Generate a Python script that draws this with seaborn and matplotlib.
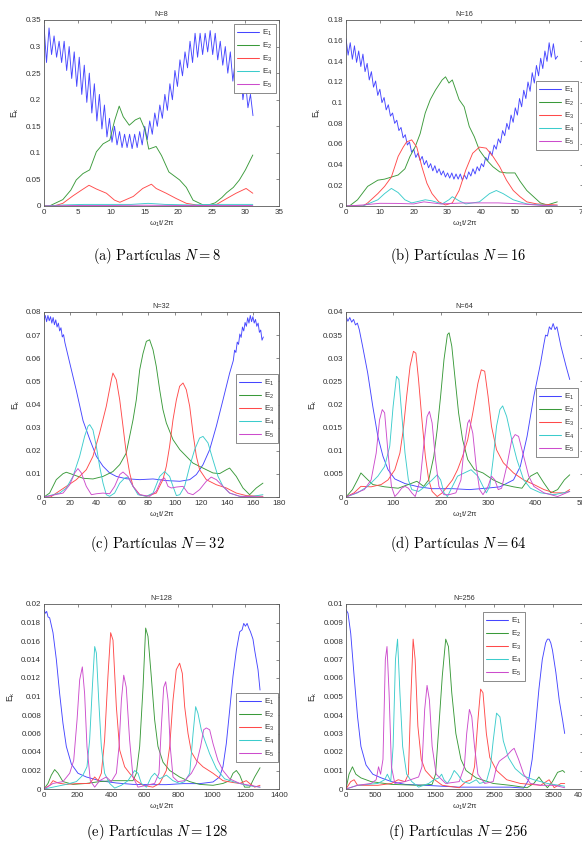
import numpy as np
import matplotlib
matplotlib.use("Agg")
import matplotlib.pyplot as plt
from matplotlib.lines import Line2D
from matplotlib.ticker import MultipleLocator, FuncFormatter
import seaborn as sns

# ---------------- data ----------------
# N = 8
N8_E1_step = 0.375
N8_E1_peaks = [0.34, 0.335, 0.32, 0.31, 0.31, 0.30, 0.29, 0.28, 0.265, 0.25, 0.23, 0.21, 0.19, 0.165,
               0.15, 0.14, 0.135, 0.135, 0.135, 0.14, 0.15, 0.16, 0.175, 0.19, 0.21, 0.23, 0.255, 0.275,
               0.29, 0.31, 0.325, 0.325, 0.325, 0.33, 0.325, 0.31, 0.30, 0.29, 0.275, 0.26, 0.235, 0.21]
N8_E1_troughs = [0.27, 0.285, 0.28, 0.27, 0.255, 0.24, 0.225, 0.21, 0.195, 0.175, 0.16, 0.145, 0.13, 0.12,
                 0.115, 0.11, 0.11, 0.108, 0.11, 0.115, 0.125, 0.135, 0.15, 0.165, 0.18, 0.2, 0.225, 0.245,
                 0.26, 0.27, 0.28, 0.285, 0.29, 0.285, 0.275, 0.265, 0.25, 0.235, 0.22, 0.2, 0.185, 0.17]
N8_E2_t = [0, 0.8, 2.8, 4.0, 4.8, 5.8, 6.8, 7.8, 8.8, 9.8, 10.5, 11.2, 11.8, 12.7, 13.6, 14.3, 15.0, 15.6,
           16.7, 17.5, 18.6, 20.2, 21.2, 22.2, 23.7, 24.5, 25.5, 26.5, 27.2, 28.2, 29.1, 30.0, 31.1]
N8_E2 = [0, 0.0, 0.012, 0.03, 0.049, 0.061, 0.068, 0.102, 0.117, 0.124, 0.16, 0.188, 0.168, 0.152, 0.162,
         0.166, 0.145, 0.107, 0.112, 0.095, 0.064, 0.049, 0.035, 0.011, 0.002, 0.002, 0.006, 0.016, 0.025,
         0.035, 0.049, 0.068, 0.096]
N8_E3_t = [0, 1.5, 2.8, 4.3, 5.6, 6.7, 7.8, 9.3, 10.5, 11.3, 13.3, 14.7, 16.0, 16.7, 18.2, 19.7, 21.2,
           23.2, 25.7, 27.2, 28.6, 30.1, 31.1]
N8_E3 = [0, 0.0, 0.005, 0.019, 0.030, 0.039, 0.032, 0.024, 0.011, 0.007, 0.018, 0.033, 0.041, 0.033, 0.024,
         0.014, 0.005, 0.001, 0.003, 0.014, 0.024, 0.033, 0.024]
N8_E4_t = [0, 3, 6, 10, 13, 15.5, 18, 22, 25, 28, 31.1]
N8_E4 = [0, 0.002, 0.003, 0.003, 0.003, 0.005, 0.003, 0.002, 0.003, 0.003, 0.003]
N8_E5_t = [0, 5, 10, 15, 20, 25, 31.1]
N8_E5 = [0, 0.001, 0.001, 0.0015, 0.001, 0.001, 0.001]

# N = 16
N16_E1_step = 0.625
N16_E1_peaks = [0.162, 0.158, 0.155, 0.150, 0.147, 0.138, 0.130, 0.121, 0.113, 0.105, 0.098, 0.090, 0.083,
                0.076, 0.069, 0.062, 0.055, 0.051, 0.048, 0.044, 0.041, 0.039, 0.036, 0.034, 0.032, 0.032,
                0.031, 0.031, 0.030, 0.033, 0.036, 0.038, 0.041, 0.047, 0.053, 0.059, 0.065, 0.073, 0.080,
                0.088, 0.095, 0.104, 0.112, 0.120, 0.129, 0.136, 0.143, 0.150, 0.158, 0.157, 0.145]
N16_E1_troughs = [0.146, 0.142, 0.139, 0.135, 0.130, 0.122, 0.115, 0.107, 0.100, 0.093, 0.087, 0.080, 0.073,
                  0.066, 0.059, 0.052, 0.047, 0.044, 0.040, 0.037, 0.034, 0.032, 0.030, 0.028, 0.027, 0.026,
                  0.026, 0.025, 0.026, 0.029, 0.031, 0.034, 0.038, 0.044, 0.049, 0.055, 0.061, 0.068, 0.074,
                  0.081, 0.088, 0.096, 0.104, 0.111, 0.119, 0.126, 0.133, 0.140, 0.144, 0.142]
N16_E2_t = [0, 1, 3.4, 6.4, 9.4, 11.4, 13.4, 15.4, 17.4, 18.9, 20.4, 21.9, 23.4, 24.9, 26.4, 28.4, 29.4, 30.4,
            31.4, 33.4, 34.9, 36.4, 37.9, 39.4, 41.4, 43.4, 45.4, 47.4, 49.9, 51.4, 53.4, 55.4, 57.4, 59.4, 62.4]
N16_E2 = [0, 0, 0.006, 0.019, 0.025, 0.026, 0.028, 0.030, 0.036, 0.048, 0.057, 0.070, 0.090, 0.103, 0.112,
          0.122, 0.125, 0.119, 0.122, 0.103, 0.096, 0.077, 0.067, 0.054, 0.045, 0.038, 0.033, 0.032, 0.032,
          0.024, 0.015, 0.009, 0.003, 0.001, 0.004]
N16_E3_t = [0, 5, 6.4, 9.4, 11.4, 13.4, 15.4, 16.9, 17.9, 19.4, 20.9, 22.4, 23.9, 25.4, 27.4, 29.4, 31.4, 33.4,
            35.4, 37.4, 39.4, 41.4, 43.4, 45.4, 47.4, 49.4, 51.4, 53.4, 56.4, 62.4]
N16_E3 = [0, 0, 0.003, 0.012, 0.019, 0.028, 0.048, 0.057, 0.062, 0.064, 0.057, 0.038, 0.022, 0.012, 0.004,
          0.001, 0.003, 0.015, 0.035, 0.051, 0.057, 0.056, 0.048, 0.038, 0.025, 0.015, 0.009, 0.004, 0.002, 0.001]
N16_E4_t = [0, 5, 9.4, 11.4, 13.4, 15.4, 17.4, 19.4, 23.4, 25.4, 28.4, 30.4, 31.4, 33.4, 35.4, 39.4, 42.4,
            44.4, 46.4, 49.4, 53.4, 62.4]
N16_E4 = [0, 0, 0.006, 0.012, 0.017, 0.013, 0.006, 0.003, 0.006, 0.005, 0.002, 0.006, 0.009, 0.005, 0.002,
          0.004, 0.012, 0.015, 0.012, 0.006, 0.002, 0.0]
N16_E5_t = [0, 5, 10, 15, 20, 23, 28, 35, 45, 52, 58, 62.4]
N16_E5 = [0, 0.001, 0.0026, 0.0025, 0.002, 0.004, 0.002, 0.003, 0.003, 0.002, 0.0005, 0.0]

# N = 32
N32_E1_t = [0, 1, 2, 3, 4, 5, 6, 7, 8, 9, 10, 11, 12, 13, 14, 15, 16, 19.7, 24.8, 29.9, 35, 40.1, 45.2, 50.3,
            55.4, 63, 73.3, 83.5, 93.7, 104, 111.6, 116.7, 121.8, 126.9, 132, 137.1, 142.2, 145, 146, 147,
            148, 149, 150, 151, 152, 153, 154, 155, 156, 157, 158, 159, 160, 161, 162, 163, 164, 165, 166,
            167, 168]
N32_E1 = [0.0765, 0.0785, 0.0758, 0.0785, 0.0762, 0.0780, 0.0752, 0.0776, 0.0745, 0.0766, 0.0735, 0.0752,
          0.0718, 0.0732, 0.0692, 0.0702, 0.0668, 0.058, 0.046, 0.033, 0.025, 0.0176, 0.0133, 0.0104, 0.0089,
          0.0079, 0.0075, 0.0078, 0.0071, 0.0068, 0.0075, 0.0097, 0.014, 0.0205, 0.0306, 0.042, 0.0536,
          0.059, 0.0635, 0.0625, 0.0670, 0.0660, 0.0705, 0.0690, 0.0735, 0.0718, 0.0755, 0.0738, 0.0775,
          0.0752, 0.0785, 0.0758, 0.0780, 0.0752, 0.0768, 0.0738, 0.0752, 0.0712, 0.0722, 0.0678, 0.0692]
N32_E2_t = [0, 4.3, 9.4, 14.6, 17.1, 22.2, 29.9, 37.5, 45.2, 52.8, 58, 63, 68.2, 70.7, 73.3, 75.8, 78.4,
            80.9, 83.5, 86, 88.6, 91.1, 93.7, 98.8, 104, 109, 114, 121.8, 129.4, 134.5, 139.7, 142.2, 147.3,
            152.4, 157.5, 162.6, 167.7]
N32_E2 = [0, 0.0017, 0.0075, 0.0101, 0.0107, 0.0097, 0.0081, 0.0078, 0.0089, 0.011, 0.014, 0.019, 0.0334,
          0.042, 0.055, 0.062, 0.0673, 0.068, 0.0637, 0.0565, 0.0464, 0.0378, 0.032, 0.0248, 0.0205, 0.0176,
          0.0147, 0.0125, 0.0104, 0.0101, 0.0118, 0.0125, 0.0089, 0.0039, 0.001, 0.0039, 0.006]
N32_E3_t = [0, 5, 9.4, 17.1, 24.8, 32.4, 37.5, 42.6, 47.7, 51.6, 52.8, 55.4, 58, 60.5, 63, 65.6, 68.2, 73.3,
            78.4, 86, 91.1, 93.7, 96.2, 98.8, 101.4, 103.9, 106.5, 109, 111.6, 114.1, 116.7, 119.2, 124.3,
            132, 139.7, 147.3, 155, 167.7]
N32_E3 = [0, 0, 0.0017, 0.0046, 0.0075, 0.0118, 0.0176, 0.0277, 0.0392, 0.0507, 0.0536, 0.0507, 0.042,
          0.0306, 0.019, 0.0104, 0.0046, 0.001, 0.0003, 0.0017, 0.0075, 0.0133, 0.0219, 0.0334, 0.042, 0.0479,
          0.0493, 0.0464, 0.0392, 0.0277, 0.0176, 0.0118, 0.0075, 0.0053, 0.0039, 0.0017, 0.0006, 0.0003]
N32_E4_t = [0, 12, 17.1, 22.2, 27.3, 31.1, 33.7, 35, 37.5, 40.1, 42.6, 45.2, 47.7, 50.3, 54.1, 58, 61.8, 64.3,
            68.2, 72, 78.4, 83.5, 88.6, 92.4, 96.2, 98.8, 101.4, 104, 107.7, 111.6, 115.4, 119.2, 121.8,
            125.6, 129.4, 133.3, 137.1, 142.2, 149.9, 160, 167.7]
N32_E4 = [0, 0.0017, 0.0039, 0.0089, 0.0176, 0.0262, 0.0306, 0.0313, 0.029, 0.0219, 0.0133, 0.006, 0.001,
          0.0003, 0.0017, 0.006, 0.0082, 0.0086, 0.0046, 0.001, 0.0003, 0.0017, 0.0089, 0.011, 0.0089, 0.0046,
          0.0006, 0.001, 0.0046, 0.0133, 0.0205, 0.0255, 0.0262, 0.0234, 0.0161, 0.0089, 0.0046, 0.0017,
          0.0003, 0.0003, 0.001]
N32_E5_t = [0, 14.6, 19.7, 23.5, 26, 28.6, 32.4, 36.3, 40.1, 45.2, 50.3, 54.1, 58, 60.5, 64.3, 68.2, 73.3,
            81, 86, 89.9, 92.4, 95, 97.5, 101.4, 106.5, 110.3, 114.1, 119.2, 124.3, 128.1, 132, 137.1, 142.2,
            149.9, 167.7]
N32_E5 = [0, 0.0017, 0.0053, 0.0104, 0.0123, 0.0104, 0.0046, 0.001, 0.0014, 0.0017, 0.0014, 0.0046, 0.0097,
          0.0108, 0.0089, 0.0046, 0.001, 0.0003, 0.0025, 0.0075, 0.0082, 0.0046, 0.0039, 0.0043, 0.0046,
          0.0017, 0.001, 0.0032, 0.0068, 0.0086, 0.0075, 0.0046, 0.0017, 0.0003, 0]

# N = 64
N64_E1_t = [0, 4, 8, 12, 16, 20, 24, 28, 35, 45.8, 56.5, 67.2, 78, 88.7, 103, 124.5, 153, 181.7, 224.6,
            260.4, 296, 324.7, 353.4, 367.7, 382, 396.3, 410.6, 417, 421, 425, 429, 433, 437, 441, 445, 449,
            453.5, 464.2, 472]
N64_E1 = [0.0390, 0.0380, 0.0388, 0.0378, 0.0384, 0.0372, 0.0376, 0.0362, 0.0326, 0.0268, 0.0196, 0.0131,
          0.0088, 0.0059, 0.0039, 0.0029, 0.0022, 0.0018, 0.0018, 0.0016, 0.0019, 0.0022, 0.0037, 0.0066,
          0.0131, 0.0218, 0.029, 0.0328, 0.0350, 0.0348, 0.0368, 0.0362, 0.0375, 0.0362, 0.0368, 0.0348,
          0.0326, 0.0283, 0.0254]
N64_E2_t = [0, 13.6, 24.3, 31.5, 42.2, 56.5, 81.5, 110, 131.6, 149.5, 163.8, 174.5, 185.3, 192.4, 199.6,
            206.7, 213.9, 217.5, 223.2, 230.3, 237.5, 246, 256.8, 271, 289, 310.4, 331.9, 353.4, 371.2, 389.1,
            403.4, 417.7, 432, 446.4, 460.7, 472]
N64_E2 = [0, 0.0016, 0.0037, 0.0052, 0.0041, 0.0027, 0.0022, 0.0019, 0.0027, 0.0034, 0.0023, 0.0037, 0.0088,
          0.0146, 0.0218, 0.0297, 0.0351, 0.0355, 0.0326, 0.0254, 0.0182, 0.0124, 0.0081, 0.0059, 0.0052,
          0.0037, 0.0027, 0.0022, 0.0019, 0.0045, 0.0053, 0.003, 0.0009, 0.0016, 0.0037, 0.0048]
N64_E3_t = [0, 17, 31.5, 53, 74.4, 88.7, 103, 113.7, 120.9, 128, 135.2, 142.3, 147.4, 153, 160.2, 167.4,
            174.5, 181.7, 192.4, 203.1, 213.9, 224.6, 235.3, 246, 256.8, 267.5, 278.3, 285.4, 292.6, 299.7,
            306.9, 317.6, 331.9, 353.4, 374.8, 396.3, 417.7, 439.2, 460.7, 472]
N64_E3 = [0, 0.0009, 0.0023, 0.0022, 0.0027, 0.0037, 0.0059, 0.0095, 0.0146, 0.0218, 0.0283, 0.0315, 0.0311,
          0.0254, 0.0167, 0.0088, 0.0037, 0.0012, 0.0001, 0.0009, 0.0023, 0.0037, 0.0059, 0.0088, 0.0124,
          0.0182, 0.0246, 0.0275, 0.0272, 0.0218, 0.0153, 0.0102, 0.0074, 0.0052, 0.0037, 0.0027, 0.0016,
          0.0009, 0.0009, 0.0016]
N64_E4_t = [0, 24.3, 45.8, 67.2, 81.5, 92.3, 99.4, 106.6, 111.6, 117.3, 124.5, 131.6, 138.8, 153, 167.4,
            181.7, 192.4, 199.6, 206.7, 213.9, 224.6, 235.3, 249.6, 263.9, 278.3, 289, 296.1, 303.3, 310.4,
            317.6, 324.7, 330.5, 339, 349.8, 360.5, 374.8, 389.1, 410.6, 439.2, 472]
N64_E4 = [0, 0.0009, 0.0023, 0.0045, 0.0066, 0.011, 0.0196, 0.0261, 0.0254, 0.0182, 0.0095, 0.0037, 0.0016,
          0.0012, 0.0023, 0.0037, 0.0048, 0.0037, 0.0009, 0.0001, 0.0023, 0.0045, 0.0052, 0.0059, 0.0045,
          0.0023, 0.0009, 0.0023, 0.0081, 0.0153, 0.0189, 0.0197, 0.0174, 0.0124, 0.0081, 0.0037, 0.0019,
          0.0009, 0.0005, 0.0012]
N64_E5_t = [0, 38.6, 53, 63.7, 70.8, 76.5, 81.5, 88.7, 95.9, 103, 110.2, 117.3, 124.5, 131.6, 138.8, 146,
            156.7, 163.8, 171, 176, 181.7, 188.8, 196, 206.7, 217.5, 231.8, 242.5, 249.6, 256.8, 260.4, 267.5,
            274.7, 281.8, 289, 299.7, 306.9, 314, 321.2, 328.3, 339, 349.8, 356.9, 364.1, 374.8, 385.5, 396.3,
            417.7, 446.4, 472]
N64_E5 = [0, 0.0016, 0.0037, 0.0095, 0.0167, 0.0189, 0.0182, 0.0095, 0.0023, 0.0001, 0.0009, 0.0019, 0.0023,
          0.0019, 0.0009, 0.0001, 0.0037, 0.011, 0.0174, 0.0185, 0.016, 0.0081, 0.0023, 0.0005, 0.0005, 0.0009,
          0.0037, 0.011, 0.016, 0.0167, 0.0138, 0.0066, 0.0016, 0.0005, 0.0023, 0.0045, 0.0037, 0.0016,
          0.0019, 0.0066, 0.0124, 0.0135, 0.0131, 0.0088, 0.0045, 0.0023, 0.0009, 0.0001, 0.0012]

# N = 128
N128_E1_t = [0, 8, 16, 24, 33.8, 53.6, 73.5, 93.3, 113, 133, 163, 202.5, 252, 331.6, 431, 530, 629.5, 729,
             828, 927, 1007, 1046, 1066, 1086, 1106, 1126, 1146, 1166, 1180, 1190, 1200, 1210, 1220, 1230,
             1245, 1255, 1275, 1287]
N128_E1 = [0.0194, 0.0190, 0.0192, 0.0186, 0.0185, 0.0169, 0.014, 0.0103, 0.0071, 0.0046, 0.0027, 0.0017,
           0.0013, 0.0009, 0.00065, 0.0005, 0.00047, 0.00047, 0.00058, 0.00058, 0.00076, 0.0013, 0.0024,
           0.0049, 0.0085, 0.0122, 0.015, 0.017, 0.0172, 0.0179, 0.0176, 0.0179, 0.0174, 0.0170, 0.0162,
           0.015, 0.0129, 0.0107]
N128_E2_t = [0, 23.8, 43.7, 63.5, 83.4, 113, 172.8, 252, 331.6, 411, 490, 530, 550, 570, 590, 605.6, 619.5,
             639.4, 659, 679, 709, 749, 808, 868, 927, 1007, 1066, 1106, 1126, 1146, 1166, 1195, 1225, 1255,
             1287]
N128_E2 = [0, 0.0006, 0.0015, 0.0021, 0.0017, 0.0008, 0.0005, 0.0006, 0.0008, 0.0009, 0.0009, 0.0009, 0.0017,
           0.0046, 0.011, 0.0174, 0.0165, 0.0121, 0.0075, 0.0046, 0.0029, 0.002, 0.0013, 0.0008, 0.0005,
           0.0004, 0.0006, 0.0009, 0.0017, 0.002, 0.0015, 0.0002, 0.0002, 0.0013, 0.0023]
N128_E3_t = [0, 33.8, 53.6, 83.4, 133, 212, 272, 302, 322, 341.5, 361, 381, 397, 411, 431, 451, 480.5, 510,
             550, 590, 649, 689, 709, 729, 749, 768.5, 788, 808, 824, 838, 858, 878, 907.5, 947, 1007, 1066,
             1126, 1166, 1205, 1225, 1255, 1287]
N128_E3 = [0, 0.0004, 0.0009, 0.00065, 0.0005, 0.0006, 0.0006, 0.0013, 0.0009, 0.0017, 0.0053, 0.0122,
           0.0169, 0.0161, 0.0089, 0.0042, 0.0024, 0.0017, 0.0009, 0.0004, 0.0002, 0.0006, 0.0013, 0.002,
           0.0046, 0.0096, 0.0129, 0.0136, 0.0125, 0.0089, 0.006, 0.004, 0.0031, 0.0024, 0.0017, 0.0009,
           0.0007, 0.0006, 0.0009, 0.0006, 0.0002, 0.0004]
N128_E4_t = [0, 133, 193, 232, 256, 272, 288, 302, 312, 326, 341.5, 361, 391, 421, 461, 500.5, 540, 560, 580,
             610, 639, 659, 689, 729, 768.5, 808, 838, 868, 888, 903.5, 917, 937, 957, 987, 1027, 1076, 1126,
             1205, 1287]
N128_E4 = [0, 0.0005, 0.0008, 0.0015, 0.0024, 0.0053, 0.011, 0.0154, 0.0147, 0.0096, 0.0046, 0.0017, 0.0006,
           0.0001, 0.0004, 0.0009, 0.002, 0.0017, 0.0006, 0.0002, 0.0013, 0.0017, 0.0011, 0.0015, 0.0009,
           0.0006, 0.0008, 0.0017, 0.006, 0.0089, 0.0082, 0.0064, 0.0053, 0.0038, 0.0022, 0.0011, 0.0008,
           0.0004, 0.0002]
N128_E5_t = [0, 53.6, 113, 153, 177, 197, 212.5, 228.4, 242, 256, 276, 302, 331.6, 371, 401, 431, 447, 461,
             475, 490, 510, 530, 560, 610, 659, 685, 699, 713, 725, 739, 752, 768.5, 798, 838, 878, 907.5,
             933, 951, 967, 987, 1007, 1036, 1066, 1106, 1166, 1287]
N128_E5 = [0, 0.0006, 0.0008, 0.0017, 0.0031, 0.0075, 0.0118, 0.0132, 0.0103, 0.0046, 0.0009, 0.0002,
           0.0009, 0.0013, 0.0008, 0.0017, 0.0046, 0.0096, 0.0123, 0.011, 0.0053, 0.0013, 0.0002, 0.0004,
           0.0006, 0.0017, 0.0067, 0.011, 0.0116, 0.0096, 0.0046, 0.0013, 0.0008, 0.0009, 0.0017, 0.0027,
           0.0046, 0.0064, 0.0066, 0.0064, 0.0049, 0.0031, 0.002, 0.0011, 0.0006, 0.0002]

# N = 256
N256_E1_t = [0, 34, 80, 137, 195, 252, 338, 452, 595, 767, 996, 1339, 1911, 2484, 2770, 2999, 3084, 3142,
             3199, 3256, 3313, 3370, 3400, 3428, 3456, 3485, 3542, 3599, 3657, 3691]
N256_E1 = [0.0097, 0.0095, 0.0084, 0.0061, 0.0039, 0.0023, 0.0013, 0.0008, 0.0006, 0.0004, 0.00025, 0.0002,
           0.0001, 0.0001, 0.0001, 0.00005, 0.0005, 0.0016, 0.0034, 0.0054, 0.007, 0.0079, 0.0081, 0.0081,
           0.0079, 0.0075, 0.0063, 0.0048, 0.0037, 0.003]
N256_E2_t = [0, 51, 109, 166, 252, 423, 767, 1225, 1454, 1511, 1568, 1625, 1683, 1729, 1785, 1854, 1940,
             2026, 2198, 2484, 2770, 3056, 3170, 3256, 3313, 3399, 3485, 3571, 3657, 3691]
N256_E2 = [0, 0.0008, 0.0012, 0.0008, 0.0006, 0.0004, 0.00025, 0.0002, 0.00025, 0.0008, 0.0034, 0.0061,
           0.0081, 0.0077, 0.0052, 0.003, 0.0016, 0.001, 0.0006, 0.0003, 0.0002, 0.00007, 0.0003, 0.00065,
           0.0004, 0.00007, 0.0004, 0.0009, 0.001, 0.0009]
N256_E3_t = [0, 80, 137, 195, 538, 767, 881, 996, 1053, 1093, 1133, 1167, 1213, 1270, 1339, 1454, 1625,
             1911, 2026, 2112, 2169, 2226, 2272, 2312, 2369, 2427, 2541, 2713, 2942, 3285, 3428, 3514, 3628,
             3691]
N256_E3 = [0, 0.0004, 0.0005, 0.0002, 0.0002, 0.0003, 0.0005, 0.0004, 0.0008, 0.0048, 0.0081, 0.007, 0.0034,
           0.0016, 0.001, 0.0006, 0.0002, 0.00007, 0.0004, 0.0005, 0.0012, 0.0037, 0.0054, 0.0052, 0.003,
           0.0017, 0.001, 0.0005, 0.0003, 0.0002, 0.0005, 0.00007, 0.0003, 0.0003]
N256_E4_t = [0, 195, 538, 652, 698, 755, 795, 835, 870, 910, 956, 1024, 1110, 1225, 1396, 1482, 1568, 1614,
             1654, 1711, 1769, 1826, 1883, 1969, 2083, 2198, 2255, 2369, 2438, 2484, 2541, 2598, 2655, 2741,
             2856, 2999, 3170, 3399, 3691]
N256_E4 = [0, 0.0002, 0.0003, 0.0005, 0.0008, 0.0004, 0.0023, 0.007, 0.0081, 0.0052, 0.0023, 0.0008, 0.0004,
           0.0001, 0.0003, 0.0005, 0.0006, 0.0008, 0.0005, 0.0003, 0.0006, 0.001, 0.0008, 0.0004, 0.0003,
           0.0005, 0.0003, 0.0004, 0.0012, 0.0026, 0.0041, 0.0039, 0.0026, 0.0017, 0.0011, 0.0007, 0.0005,
           0.0003, 0.00015]
N256_E5_t = [0, 195, 423, 509, 549, 584, 624, 664, 692, 727, 767, 824, 996, 1225, 1282, 1328, 1368, 1408,
             1454, 1522, 1683, 1911, 1997, 2037, 2083, 2123, 2169, 2226, 2341, 2484, 2541, 2587, 2627, 2713,
             2798, 2838, 2913, 2999, 3113, 3285, 3514, 3691]
N256_E5 = [0, 0.0002, 0.0003, 0.0005, 0.0012, 0.0008, 0.0016, 0.007, 0.0077, 0.0052, 0.0012, 0.0003, 0.0004,
           0.00065, 0.0012, 0.0043, 0.0056, 0.0048, 0.0023, 0.0008, 0.0003, 0.0004, 0.0012, 0.003, 0.0043,
           0.0039, 0.0023, 0.0008, 0.0003, 0.0004, 0.0012, 0.0015, 0.0016, 0.0018, 0.0021, 0.0022, 0.0016,
           0.0008, 0.0003, 0.0002, 0.0002, 0.00007]

# axis settings and labels
panel_titles = ["N=8", "N=16", "N=32", "N=64", "N=128", "N=256"]
captions = [r"$\mathrm{(a)\ Partículas}\ N = 8$", r"$\mathrm{(b)\ Partículas}\ N = 16$",
            r"$\mathrm{(c)\ Partículas}\ N = 32$", r"$\mathrm{(d)\ Partículas}\ N = 64$",
            r"$\mathrm{(e)\ Partículas}\ N = 128$", r"$\mathrm{(f)\ Partículas}\ N = 256$"]
x_max = [35, 70, 180, 500, 1400, 4000]
x_step = [5, 10, 20, 100, 200, 500]
y_max = [0.35, 0.18, 0.08, 0.04, 0.02, 0.01]
y_step = [0.05, 0.02, 0.01, 0.005, 0.002, 0.001]
mode_labels = ["E$_1$", "E$_2$", "E$_3$", "E$_4$", "E$_5$"]
mode_colors = ["#4646ff", "#3a9a3a", "#ff4a4a", "#3ccccc", "#cc4ccc"]


def zigzag(peaks, troughs, step):
    t, v = [], []
    for i, p in enumerate(peaks):
        t.append(2 * i * step)
        v.append(p)
        if i < len(troughs):
            t.append((2 * i + 1) * step)
            v.append(troughs[i])
    return t, v


N8_E1_t, N8_E1 = zigzag(N8_E1_peaks, N8_E1_troughs, N8_E1_step)
N16_E1_t, N16_E1 = zigzag(N16_E1_peaks, N16_E1_troughs, N16_E1_step)

panels = [
    [(N8_E1_t, N8_E1), (N8_E2_t, N8_E2), (N8_E3_t, N8_E3), (N8_E4_t, N8_E4), (N8_E5_t, N8_E5)],
    [(N16_E1_t, N16_E1), (N16_E2_t, N16_E2), (N16_E3_t, N16_E3), (N16_E4_t, N16_E4), (N16_E5_t, N16_E5)],
    [(N32_E1_t, N32_E1), (N32_E2_t, N32_E2), (N32_E3_t, N32_E3), (N32_E4_t, N32_E4), (N32_E5_t, N32_E5)],
    [(N64_E1_t, N64_E1), (N64_E2_t, N64_E2), (N64_E3_t, N64_E3), (N64_E4_t, N64_E4), (N64_E5_t, N64_E5)],
    [(N128_E1_t, N128_E1), (N128_E2_t, N128_E2), (N128_E3_t, N128_E3), (N128_E4_t, N128_E4),
     (N128_E5_t, N128_E5)],
    [(N256_E1_t, N256_E1), (N256_E2_t, N256_E2), (N256_E3_t, N256_E3), (N256_E4_t, N256_E4),
     (N256_E5_t, N256_E5)],
]

# ---------------- layout ----------------
sns.set_theme(style="white")
plt.rcParams["font.family"] = ["Liberation Sans", "DejaVu Sans"]
plt.rcParams["mathtext.fontset"] = "custom"
plt.rcParams["mathtext.rm"] = "Liberation Sans"
plt.rcParams["mathtext.it"] = "Liberation Sans"

W, H = 582, 849
fig = plt.figure(figsize=(W / 100, H / 100), dpi=100)
fig.patch.set_facecolor("white")

ax_px = [(44, 279, 20, 206), (346, 583, 20, 206),
         (44, 279, 312, 497), (346, 583, 312, 497),
         (44, 279, 604, 789), (346, 583, 604, 789)]
legend_anchor = [(0.987, 0.978), (0.979, 0.672), (0.996, 0.665), (0.979, 0.589), (0.996, 0.519),
                 (0.755, 0.957)]
caption_pos = [(157, 260), (458, 260), (157, 548), (458, 548), (157, 836), (458, 836)]

axis_gray = "#5a5a5a"
text_gray = "#333333"
line_w = 0.65

for i, (x0, x1, y0, y1) in enumerate(ax_px):
    ax = fig.add_axes([x0 / W, 1 - y1 / H, (x1 - x0) / W, (y1 - y0) / H])
    ax.set_facecolor("white")
    for k, (tt, vv) in enumerate(panels[i]):
        sns.lineplot(x=tt, y=vv, ax=ax, color=mode_colors[k], linewidth=line_w,
                     estimator=None, sort=False)
    ax.set_xlim(0, x_max[i])
    ax.set_ylim(0, y_max[i])
    ax.xaxis.set_major_locator(MultipleLocator(x_step[i]))
    ax.yaxis.set_major_locator(MultipleLocator(y_step[i]))
    ax.xaxis.set_major_formatter(FuncFormatter(lambda v, p: "%g" % round(v, 6)))
    ax.yaxis.set_major_formatter(FuncFormatter(lambda v, p: "%g" % round(v, 6)))
    ax.tick_params(direction="in", top=True, right=True, length=2.5, width=0.5,
                   labelsize=5.8, colors=axis_gray, labelcolor=text_gray, pad=2)
    for s in ax.spines.values():
        s.set_color(axis_gray)
        s.set_linewidth(0.6)
    ax.set_title(panel_titles[i], fontsize=5.2, color=text_gray, pad=3)
    ax.set_xlabel("ω$_1$t/2π", fontsize=5.8, color=text_gray, labelpad=2)
    ax.set_ylabel("E$_\\mathrm{k}$", fontsize=6.2, color=text_gray, labelpad=3)
    handles = [Line2D([0], [0], color=c, linewidth=line_w + 0.1) for c in mode_colors]
    leg = ax.legend(handles, mode_labels, loc="upper right", bbox_to_anchor=legend_anchor[i],
                    borderaxespad=0, fontsize=5.8, handlelength=2.7, handletextpad=0.4,
                    labelspacing=0.35, borderpad=0.42, fancybox=False, framealpha=1,
                    edgecolor="#777777")
    leg.get_frame().set_linewidth(0.6)
    for txt in leg.get_texts():
        txt.set_color(text_gray)

for i, (cx, cy) in enumerate(caption_pos):
    fig.text(cx / W, 1 - cy / H, captions[i], ha="center", va="baseline", fontsize=10.5,
             math_fontfamily="cm", color="black")

fig.savefig("out.png", dpi=100, facecolor="white")
